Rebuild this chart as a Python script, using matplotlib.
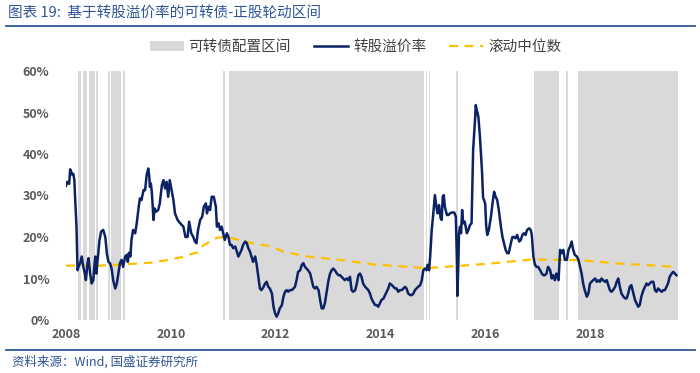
import matplotlib
matplotlib.use("Agg")
import matplotlib.pyplot as plt
from matplotlib.patches import Patch
from matplotlib.lines import Line2D

plt.rcParams['font.family'] = ['Noto Sans CJK SC', 'DejaVu Sans']

# 转股溢价率 (%), dates as decimal years
premium_dates = [
    2008.00, 2008.02, 2008.06, 2008.08, 2008.10, 2008.12, 2008.14, 2008.16, 2008.17, 2008.20,
    2008.22, 2008.23, 2008.27, 2008.30, 2008.33, 2008.36, 2008.38, 2008.41, 2008.43, 2008.46,
    2008.49, 2008.52, 2008.54, 2008.56, 2008.58, 2008.60, 2008.64, 2008.67, 2008.71, 2008.75,
    2008.78, 2008.81, 2008.84, 2008.87, 2008.90, 2008.94, 2008.97, 2009.00, 2009.03, 2009.06,
    2009.09, 2009.13, 2009.16, 2009.18, 2009.20, 2009.23, 2009.25, 2009.28, 2009.32, 2009.35,
    2009.38, 2009.41, 2009.44, 2009.48, 2009.51, 2009.54, 2009.57, 2009.59, 2009.60, 2009.62,
    2009.64, 2009.67, 2009.69, 2009.72, 2009.76, 2009.79, 2009.83, 2009.86, 2009.89, 2009.92,
    2009.95, 2009.98, 2010.02, 2010.05, 2010.08, 2010.13, 2010.18, 2010.24, 2010.28, 2010.32,
    2010.35, 2010.39, 2010.43, 2010.46, 2010.49, 2010.52, 2010.56, 2010.60, 2010.63, 2010.67,
    2010.69, 2010.72, 2010.75, 2010.78, 2010.82, 2010.86, 2010.88, 2010.91, 2010.94, 2010.97,
    2011.00, 2011.03, 2011.07, 2011.10, 2011.13, 2011.16, 2011.19, 2011.23, 2011.26, 2011.29,
    2011.32, 2011.35, 2011.38, 2011.42, 2011.45, 2011.48, 2011.51, 2011.54, 2011.57, 2011.61,
    2011.64, 2011.67, 2011.70, 2011.73, 2011.77, 2011.80, 2011.83, 2011.86, 2011.89, 2011.93,
    2011.96, 2011.99, 2012.02, 2012.05, 2012.08, 2012.12, 2012.15, 2012.18, 2012.21, 2012.24,
    2012.27, 2012.31, 2012.34, 2012.37, 2012.40, 2012.43, 2012.47, 2012.50, 2012.53, 2012.56,
    2012.59, 2012.62, 2012.66, 2012.69, 2012.72, 2012.75, 2012.78, 2012.82, 2012.85, 2012.88,
    2012.91, 2012.94, 2012.98, 2013.01, 2013.04, 2013.07, 2013.10, 2013.13, 2013.17, 2013.20,
    2013.23, 2013.26, 2013.29, 2013.32, 2013.36, 2013.39, 2013.42, 2013.45, 2013.48, 2013.52,
    2013.55, 2013.58, 2013.61, 2013.64, 2013.67, 2013.71, 2013.74, 2013.77, 2013.80, 2013.83,
    2013.86, 2013.90, 2013.93, 2013.96, 2013.99, 2014.02, 2014.06, 2014.09, 2014.12, 2014.15,
    2014.18, 2014.22, 2014.25, 2014.28, 2014.31, 2014.34, 2014.37, 2014.41, 2014.44, 2014.47,
    2014.50, 2014.53, 2014.57, 2014.60, 2014.63, 2014.66, 2014.69, 2014.72, 2014.76, 2014.79,
    2014.82, 2014.85, 2014.88, 2014.90, 2014.93, 2014.95, 2014.98, 2015.01, 2015.04, 2015.07,
    2015.09, 2015.12, 2015.15, 2015.17, 2015.19, 2015.21, 2015.23, 2015.27, 2015.30, 2015.33,
    2015.36, 2015.41, 2015.44, 2015.46, 2015.47, 2015.49, 2015.50, 2015.52, 2015.54, 2015.56,
    2015.58, 2015.61, 2015.65, 2015.68, 2015.71, 2015.74, 2015.75, 2015.77, 2015.81, 2015.82,
    2015.84, 2015.87, 2015.90, 2015.93, 2015.94, 2015.96, 2016.00, 2016.02, 2016.04, 2016.07,
    2016.11, 2016.14, 2016.17, 2016.20, 2016.23, 2016.26, 2016.30, 2016.33, 2016.36, 2016.39,
    2016.42, 2016.45, 2016.49, 2016.52, 2016.55, 2016.58, 2016.61, 2016.65, 2016.68, 2016.71,
    2016.74, 2016.77, 2016.80, 2016.84, 2016.87, 2016.89, 2016.92, 2016.95, 2016.98, 2017.01,
    2017.05, 2017.08, 2017.11, 2017.14, 2017.17, 2017.20, 2017.24, 2017.27, 2017.30, 2017.33,
    2017.36, 2017.40, 2017.43, 2017.46, 2017.49, 2017.52, 2017.56, 2017.59, 2017.62, 2017.65,
    2017.68, 2017.71, 2017.75, 2017.78, 2017.81, 2017.84, 2017.87, 2017.90, 2017.94, 2017.97,
    2018.00, 2018.03, 2018.06, 2018.10, 2018.13, 2018.16, 2018.19, 2018.22, 2018.25, 2018.29,
    2018.32, 2018.35, 2018.38, 2018.41, 2018.44, 2018.48, 2018.51, 2018.54, 2018.57, 2018.60,
    2018.64, 2018.67, 2018.70, 2018.73, 2018.76, 2018.79, 2018.83, 2018.86, 2018.89, 2018.92,
    2018.95, 2018.98, 2019.02, 2019.05, 2019.08, 2019.11, 2019.14, 2019.17, 2019.21, 2019.24,
    2019.27, 2019.30, 2019.33, 2019.37, 2019.40, 2019.43, 2019.46, 2019.49, 2019.52, 2019.56,
    2019.59, 2019.62, 2019.65,
]
premium_values = [
    32.3, 33.3, 32.8, 36.3, 35.7, 35.0, 35.2, 33.7, 30.5, 22.5,
    12.0, 12.5, 13.7, 15.3, 12.8, 11.2, 9.6, 13.7, 14.9, 11.2,
    8.8, 9.6, 12.8, 15.3, 11.2, 14.0, 19.3, 21.3, 21.7, 20.0,
    16.0, 14.0, 13.7, 12.4, 9.6, 7.6, 8.8, 11.2, 13.7, 14.5,
    12.8, 15.3, 15.7, 14.0, 16.2, 15.3, 19.3, 21.7, 20.9, 23.3,
    26.5, 29.3, 28.9, 31.3, 31.3, 35.0, 36.5, 34.5, 32.1, 32.9,
    30.5, 24.1, 26.9, 26.1, 26.5, 28.1, 32.5, 33.7, 31.7, 33.3,
    29.7, 33.7, 30.9, 28.9, 25.7, 24.1, 23.3, 22.5, 20.0, 20.0,
    23.7, 20.9, 20.0, 18.9, 18.5, 21.7, 24.1, 24.9, 27.3, 28.1,
    25.7, 27.3, 26.5, 29.7, 29.7, 27.3, 22.5, 23.3, 21.7, 22.5,
    20.9, 19.3, 20.9, 20.0, 18.1, 18.1, 17.3, 17.7, 16.5, 15.3,
    16.1, 16.9, 18.1, 18.9, 18.5, 17.3, 16.5, 15.3, 14.0, 15.3,
    13.3, 10.4, 7.6, 7.2, 8.0, 8.8, 9.2, 8.0, 7.6, 6.4,
    3.2, 1.6, 0.8, 1.6, 2.8, 3.6, 5.6, 6.8, 7.2, 6.8,
    7.2, 7.2, 7.6, 8.0, 9.6, 11.6, 12.0, 13.3, 13.7, 12.8,
    12.4, 12.0, 11.2, 9.6, 8.0, 7.6, 8.0, 7.2, 4.8, 2.8,
    2.8, 4.0, 7.2, 9.6, 11.2, 12.0, 12.4, 12.0, 11.2, 10.8,
    10.8, 10.4, 10.0, 9.6, 10.0, 9.6, 10.4, 7.2, 6.8, 7.2,
    8.8, 10.8, 11.2, 10.4, 8.8, 8.0, 7.6, 7.2, 6.4, 5.2,
    4.4, 3.6, 3.6, 3.2, 4.0, 4.8, 5.2, 6.0, 6.8, 7.6,
    8.8, 8.4, 8.0, 7.6, 7.6, 6.8, 7.2, 7.2, 7.6, 8.0,
    7.6, 6.4, 6.0, 6.0, 6.4, 7.2, 7.6, 8.0, 8.4, 9.6,
    12.0, 12.4, 12.0, 13.3, 12.0, 15.3, 21.7, 25.7, 30.1, 27.3,
    25.7, 27.7, 24.5, 24.1, 29.7, 30.1, 27.3, 25.3, 25.3, 25.7,
    25.9, 25.9, 24.9, 14.5, 5.8, 14.5, 20.9, 22.5, 20.9, 26.5,
    23.3, 23.7, 20.9, 21.7, 22.9, 23.3, 28.9, 41.0, 49.0, 51.8,
    50.6, 49.0, 44.2, 38.0, 35.7, 29.5, 28.1, 22.5, 20.5, 21.7,
    24.9, 28.1, 30.9, 29.7, 28.9, 26.5, 22.5, 20.0, 18.5, 16.9,
    16.1, 16.1, 18.5, 20.0, 20.0, 19.7, 20.5, 18.9, 19.3, 20.5,
    20.9, 20.5, 21.7, 22.1, 21.7, 20.5, 15.3, 13.3, 12.8, 12.8,
    12.0, 11.2, 10.8, 10.8, 11.2, 12.8, 12.0, 10.0, 10.8, 9.6,
    11.2, 9.6, 16.9, 16.1, 16.9, 14.5, 14.5, 16.9, 17.7, 18.9,
    16.9, 15.7, 15.3, 14.5, 12.8, 11.2, 8.8, 7.2, 5.6, 6.4,
    8.8, 9.2, 9.6, 10.0, 9.2, 9.6, 9.2, 10.0, 9.6, 9.2,
    9.6, 8.4, 7.2, 6.8, 7.2, 8.0, 9.2, 10.0, 8.0, 6.4,
    5.6, 5.2, 5.2, 6.4, 8.0, 8.4, 6.4, 4.8, 4.0, 3.2,
    3.6, 5.6, 7.2, 8.0, 8.8, 8.4, 8.8, 9.2, 9.2, 7.2,
    6.8, 7.6, 7.2, 6.8, 7.2, 7.2, 8.0, 8.8, 10.4, 11.2,
    11.6, 11.2, 10.8,
]

# 滚动中位数 (%)
median_dates = [2008.00, 2008.65, 2008.97, 2009.60, 2009.92, 2010.23, 2010.42, 2010.52,
                2010.61, 2010.88, 2011.03, 2011.17, 2011.55, 2011.93, 2012.14, 2012.60,
                2013.23, 2013.86, 2014.89, 2015.46, 2016.09, 2016.91, 2017.81, 2018.57,
                2019.65]
median_values = [13.1, 13.1, 13.3, 13.8, 14.4, 15.2, 16.0, 16.3,
                 17.9, 19.8, 20.0, 19.7, 18.5, 17.7, 16.5, 15.3,
                 14.5, 13.4, 12.5, 13.0, 13.6, 14.6, 14.4, 13.6,
                 12.8]

# 可转债配置区间
shade_start = [2008.23, 2008.32, 2008.44, 2008.57, 2008.80, 2008.86, 2009.09, 2011.00,
               2011.11, 2014.87, 2014.92, 2015.44, 2016.93, 2017.55, 2017.77]
shade_end = [2008.29, 2008.40, 2008.55, 2008.61, 2008.84, 2009.05, 2009.13, 2011.03,
             2014.83, 2014.89, 2014.95, 2015.48, 2017.41, 2017.58, 2019.68]

year_ticks = [2008, 2010, 2012, 2014, 2016, 2018]
pct_ticks = [0, 10, 20, 30, 40, 50, 60]

navy = '#0B2265'
gold = '#FFC000'
shade = '#D9D9D9'
blue_txt = '#2F5597'
tick_col = '#595959'

fig = plt.figure(figsize=(7.0, 3.73), dpi=100)
ax = fig.add_axes([66 / 700, 1 - 320 / 373, 612 / 700, 249 / 373])

for s, e in zip(shade_start, shade_end):
    ax.axvspan(s, e, color=shade, lw=0, zorder=1)

ax.plot(median_dates, median_values, color=gold, lw=1.6, dashes=(4, 3), zorder=2)
ax.plot(premium_dates, premium_values, color=navy, lw=1.8, zorder=3)

ax.set_xlim(2008.0, 2019.68)
ax.set_ylim(0, 60)
ax.set_xticks(year_ticks)
ax.set_xticklabels([str(y) for y in year_ticks])
ax.set_yticks(pct_ticks)
ax.set_yticklabels([f"{p}%" for p in pct_ticks])
ax.tick_params(length=0, labelsize=9, labelcolor=tick_col)
ax.tick_params(axis='y', pad=12)
ax.tick_params(axis='x', pad=6)
for lab in ax.get_xticklabels() + ax.get_yticklabels():
    lab.set_fontweight('bold')
for sp in ax.spines.values():
    sp.set_visible(False)

handles = [
    Patch(facecolor=shade, edgecolor='none'),
    Line2D([], [], color=navy, lw=1.8),
    Line2D([], [], color=gold, lw=1.6, dashes=(4, 3)),
]
labels = ['可转债配置区间', '转股溢价率', '滚动中位数']
fig.legend(handles, labels, loc='center', bbox_to_anchor=(0.508, 0.874), ncol=3,
           frameon=False, fontsize=10.5, handlelength=2.3, handletextpad=0.35,
           columnspacing=1.6, labelcolor='#404040')

# header and footer
fig.text(8 / 700, 1 - 13 / 373, '图表 19:  基于转股溢价率的可转债-正股轮动区间', fontsize=10.5,
         color=blue_txt, style='italic', va='center', ha='left')
fig.add_artist(Line2D([6 / 700, 695 / 700], [1 - 26 / 373, 1 - 26 / 373], color=blue_txt, lw=1.3))
fig.add_artist(Line2D([6 / 700, 695 / 700], [1 - 350 / 373, 1 - 350 / 373], color=blue_txt, lw=1.3))
fig.text(12 / 700, 1 - 362 / 373, '资料来源：Wind, 国盛证券研究所', fontsize=9,
         color=blue_txt, style='italic', va='center', ha='left')

fig.savefig('out.png', dpi=100)
